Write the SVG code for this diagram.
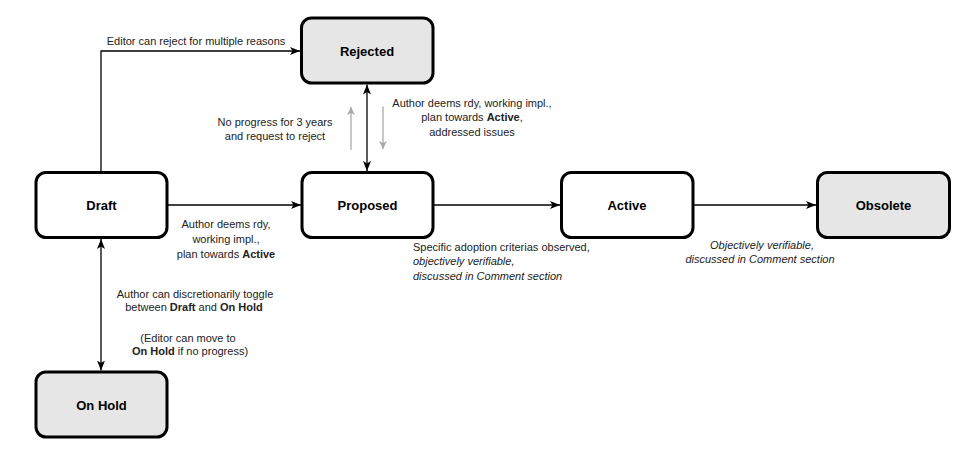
<svg xmlns="http://www.w3.org/2000/svg" width="965" height="461" viewBox="0 0 965 461">
<style>
.box{stroke:#000;stroke-width:3;}
.w{fill:#fff;}
.g{fill:#e6e6e6;}
.nl{font-family:"Liberation Sans",Arial,Helvetica,sans-serif;font-size:13px;font-weight:bold;fill:#000;text-anchor:middle;}
.lb{font-family:"Liberation Sans",Arial,Helvetica,sans-serif;font-size:11px;fill:#222;}
.c{text-anchor:middle;}
.i{font-style:italic;}
.b{font-weight:bold;}
.ln{fill:none;stroke:#000;stroke-width:1.3;}
.gl{fill:none;stroke:#aaa;stroke-width:1.3;}
</style>
<defs>
<marker id="ah" markerUnits="userSpaceOnUse" markerWidth="10" markerHeight="8" refX="10" refY="4" orient="auto-start-reverse" viewBox="0 0 10 8">
<path d="M0,0 L10,4 L0,8 L2.5,4 Z" fill="#000"/>
</marker>
<marker id="gh" markerUnits="userSpaceOnUse" markerWidth="8" markerHeight="8" refX="8" refY="4" orient="auto" viewBox="0 0 8 8">
<path d="M0,0 L8,4 L0,8 L2,4 Z" fill="#aaa"/>
</marker>
</defs>
<g id="connectors">
<path class="ln" d="M101,172 V51 H300" marker-end="url(#ah)"/>
<path class="ln" d="M167,205 H301" marker-end="url(#ah)"/>
<path class="ln" d="M433,205 H560" marker-end="url(#ah)"/>
<path class="ln" d="M693,205 H816" marker-end="url(#ah)"/>
<path class="ln" d="M367,84.5 V171" marker-start="url(#ah)" marker-end="url(#ah)"/>
<path class="ln" d="M101,239 V370.5" marker-start="url(#ah)" marker-end="url(#ah)"/>
<path class="gl" d="M351,150 V107" marker-end="url(#gh)"/>
<path class="gl" d="M383,106.5 V149" marker-end="url(#gh)"/>
<text class="lb c" x="196" y="44.5">Editor can reject for multiple reasons</text>
<text class="lb c" x="275" y="125.5">No progress for 3 years</text>
<text class="lb c" x="275" y="140">and request to reject</text>
<text class="lb c" x="472" y="106.5">Author deems rdy, working impl.,</text>
<text class="lb c" x="472" y="121">plan towards <tspan class="b">Active</tspan>,</text>
<text class="lb c" x="472" y="135.5">addressed issues</text>
<text class="lb c" x="226" y="228">Author deems rdy,</text>
<text class="lb c" x="226" y="243">working impl.,</text>
<text class="lb c" x="226" y="258">plan towards <tspan class="b">Active</tspan></text>
<text class="lb c" x="195" y="297.5">Author can discretionarily toggle</text>
<text class="lb c" x="194" y="311">between <tspan class="b">Draft</tspan> and <tspan class="b">On Hold</tspan></text>
<text class="lb c" x="188" y="341.5">(Editor can move to</text>
<text class="lb c" x="190" y="354.5"><tspan class="b">On Hold</tspan> if no progress)</text>
<text class="lb" x="413" y="250.5">Specific adoption criterias observed,</text>
<text class="lb i" x="413" y="265">objectively verifiable,</text>
<text class="lb i" x="413" y="279.5">discussed in Comment section</text>
<text class="lb i c" x="762" y="248.5">Objectively verifiable,</text>
<text class="lb i c" x="760" y="263">discussed in Comment section</text>
</g>
<g id="rejected"><rect class="box g" x="301.5" y="18" width="131.5" height="65" rx="10"/><text class="nl" x="367" y="56">Rejected</text></g>
<g id="draft"><rect class="box w" x="36" y="172.5" width="131" height="65" rx="10"/><text class="nl" x="101.5" y="210">Draft</text></g>
<g id="proposed"><rect class="box w" x="302" y="172.5" width="131" height="65" rx="10"/><text class="nl" x="367.5" y="210">Proposed</text></g>
<g id="active"><rect class="box w" x="561.5" y="172.5" width="131.5" height="65" rx="10"/><text class="nl" x="627" y="210">Active</text></g>
<g id="obsolete"><rect class="box g" x="817.5" y="172.5" width="132" height="65" rx="10"/><text class="nl" x="883.5" y="210">Obsolete</text></g>
<g id="onhold"><rect class="box g" x="36" y="372" width="131" height="65" rx="10"/><text class="nl" x="101.5" y="409.5">On Hold</text></g>
</svg>
